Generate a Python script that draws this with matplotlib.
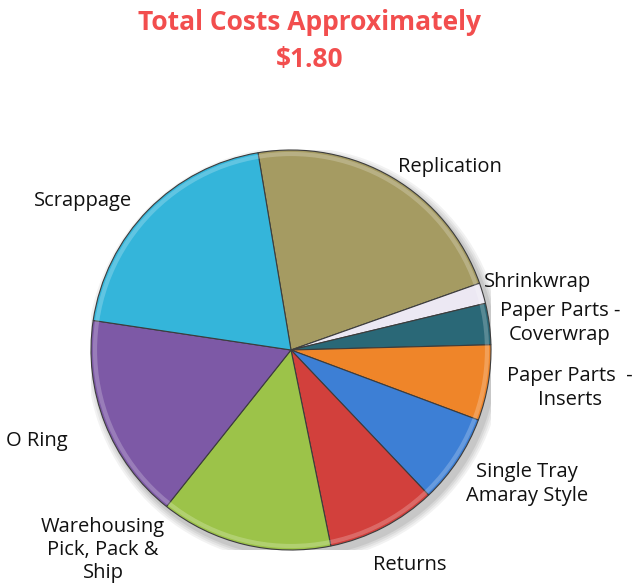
import matplotlib
matplotlib.use("Agg")
import matplotlib.pyplot as plt
from matplotlib.patches import Circle

# Cost breakdown (dollars per unit), clockwise from the top
categories = ["Replication", "Shrinkwrap", "Paper Parts -\nCoverwrap",
              "Paper Parts  -\nInserts", "Single Tray\nAmaray Style", "Returns",
              "Warehousing\nPick, Pack &\nShip", "O Ring", "Scrappage"]
costs = [0.40, 0.03, 0.06, 0.11, 0.13, 0.16, 0.25, 0.30, 0.36]
colors = ["#A59B62", "#ECE8F3", "#2A6877", "#EF8529", "#3D7FD5",
          "#D2403C", "#9CC349", "#7D59A6", "#34B5DA"]

# label anchor points in figure pixels (x, y from top)
label_pos = [(398, 167, "left"), (538, 282, "center"), (560, 323, "center"),
             (570, 388, "center"), (527, 484, "center"), (410, 565, "center"),
             (103, 550, "center"), (37, 441, "center"), (83, 201, "center")]

W, H = 636, 586
fig = plt.figure(figsize=(W / 100, H / 100), dpi=100)
fig.patch.set_facecolor("white")

cx, cy, r = 291, 350, 200
ax = fig.add_axes([(cx - r) / W, (H - cy - r) / H, 2 * r / W, 2 * r / H])

# soft drop shadow
for i, a in enumerate([0.05, 0.05, 0.06, 0.07]):
    ax.add_patch(Circle((0.02, -0.025), 1.0 + 0.01 * (4 - i), color="black",
                        alpha=a, lw=0, zorder=0))

wedges, _ = ax.pie(costs, colors=colors, startangle=99.5, counterclock=False,
                   radius=1.0,
                   wedgeprops=dict(edgecolor="#3c3c3c", linewidth=0.8))
for w in wedges:
    w.set_zorder(2)

ax.set_xlim(-1, 1)
ax.set_ylim(-1, 1)
ax.set_aspect("equal")
ax.axis("off")

# bevel highlight near the rim
ax.add_patch(Circle((0, 0), 0.98, fill=False, edgecolor="white", alpha=0.22,
                    lw=3, zorder=3))

for text, (px, py, ha) in zip(categories, label_pos):
    fig.text(px / W, 1 - py / H, text, ha=ha, va="center", fontsize=14.5,
             family="Open Sans", color="#111111", linespacing=1.22)

fig.text(310 / W, 1 - 23 / H, "Total Costs Approximately", ha="center",
         va="center", fontsize=19, fontweight="bold", family="Open Sans",
         color="#F24E4E")
fig.text(310 / W, 1 - 59 / H, "$1.80", ha="center", va="center", fontsize=19,
         fontweight="bold", family="Open Sans", color="#F24E4E")

fig.savefig("out.png", dpi=100)
